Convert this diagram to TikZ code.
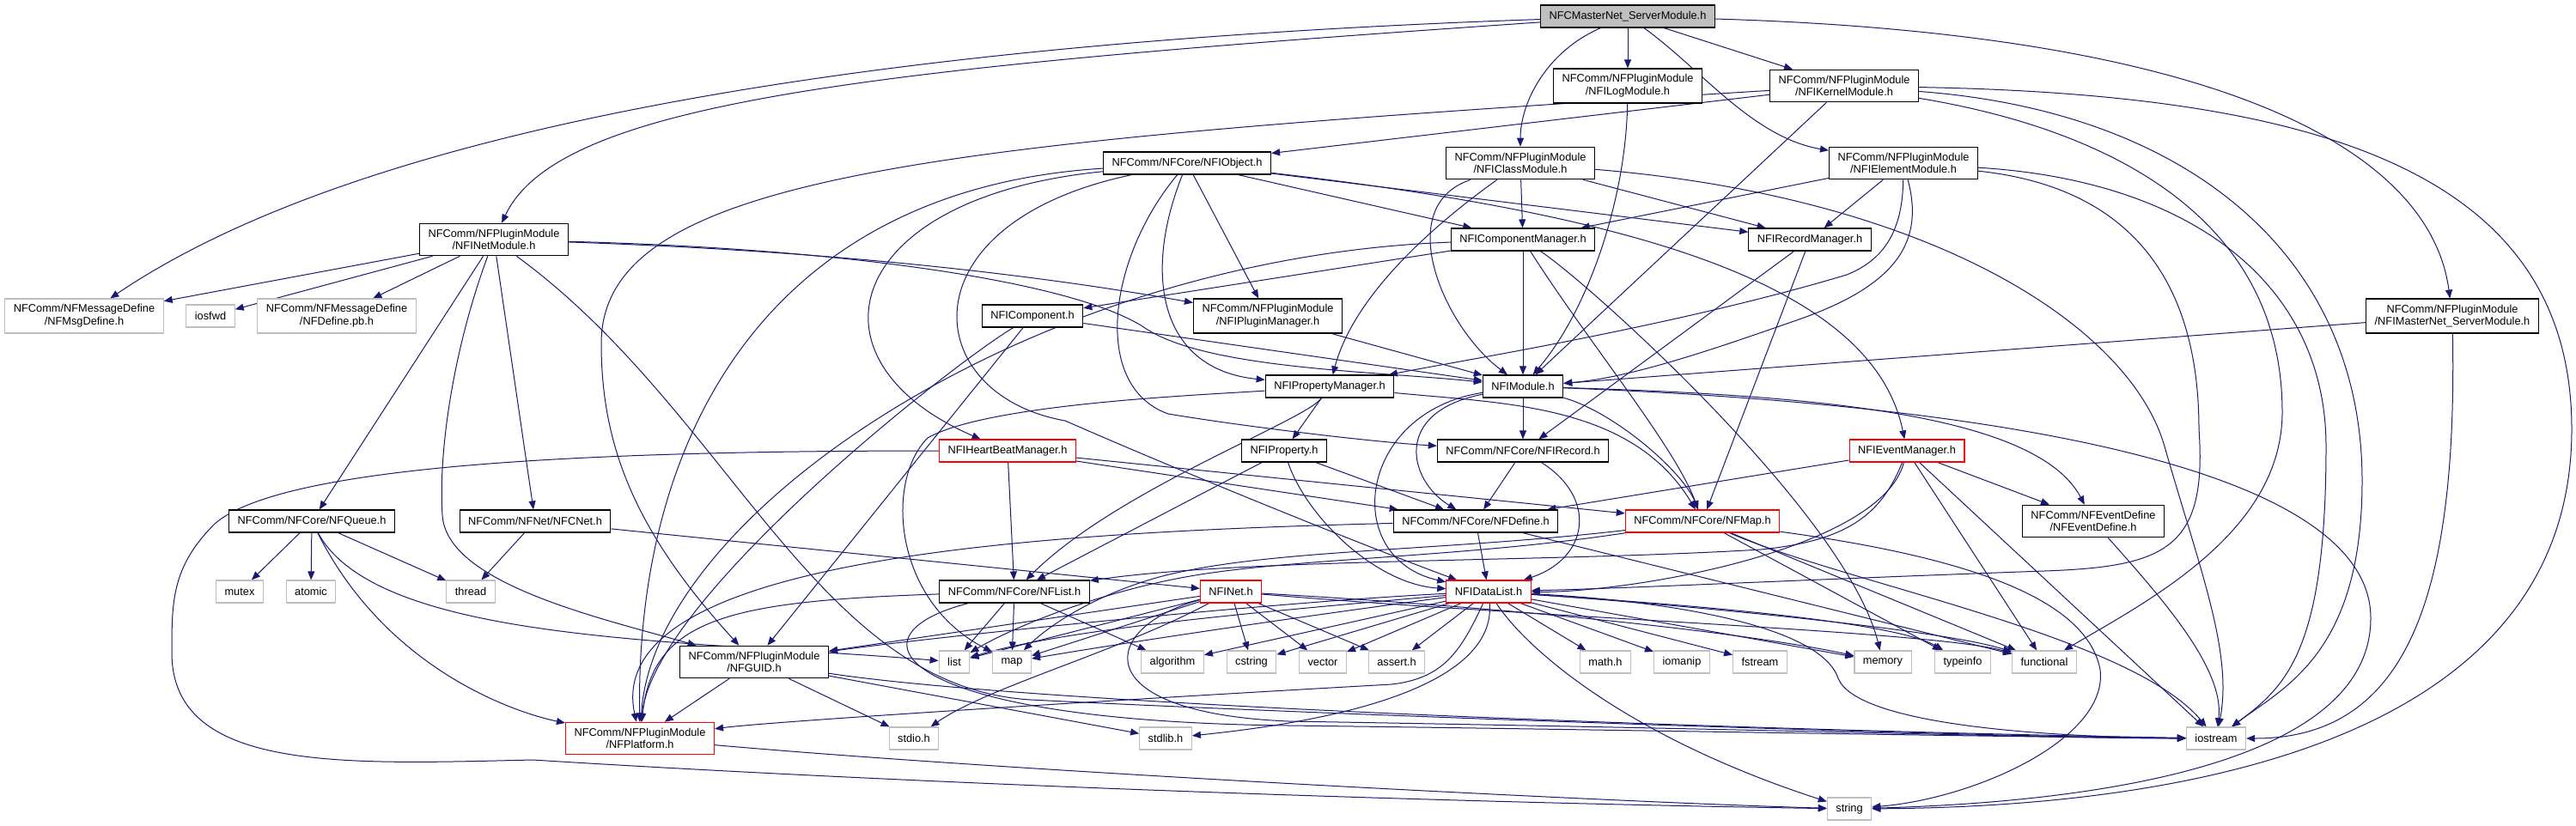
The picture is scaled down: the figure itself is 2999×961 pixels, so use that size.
\documentclass[tikz,border=0pt]{standalone}
\usepackage{fontspec}
\setmainfont{Liberation Sans}
\usepackage{xcolor}
\usetikzlibrary{arrows.meta,backgrounds}

\definecolor{incblue}{HTML}{191970}
\definecolor{hdrred}{HTML}{FF0000}
\definecolor{hdrgray}{HTML}{BFBFBF}
\newcommand{\hdrfont}{\fontsize{9.6}{11}\selectfont}

\begin{document}
\begin{tikzpicture}[
  x=0.75pt, y=-0.75pt,
  hdr/.style={draw=black,fill=white,line width=0.9pt,font=\hdrfont,align=center,
              inner xsep=7.5pt,inner ysep=5pt,minimum height=19.5pt},
  redhdr/.style={hdr,draw=hdrred},
  syshdr/.style={hdr,draw=hdrgray},
  roothdr/.style={hdr,fill=hdrgray},
  inc/.style={-{Triangle[length=7.5pt,width=6pt]},color=incblue,line width=0.75pt}
]
\useasboundingbox (0,0) rectangle (2999,961);

% headers
\node[roothdr] (root)      at (1895,19)  {NFCMasterNet\_ServerModule.h};
\node[hdr]     (logmod)    at (1895,100) {NFComm/NFPluginModule\\/NFILogModule.h};
\node[hdr]     (kernel)    at (2147,100) {NFComm/NFPluginModule\\/NFIKernelModule.h};
\node[hdr]     (object)    at (1382,190) {NFComm/NFCore/NFIObject.h};
\node[hdr]     (classmod)  at (1770,190) {NFComm/NFPluginModule\\/NFIClassModule.h};
\node[hdr]     (elemmod)   at (2216,190) {NFComm/NFPluginModule\\/NFIElementModule.h};
\node[hdr]     (netmod)    at (575,279)  {NFComm/NFPluginModule\\/NFINetModule.h};
\node[hdr]     (compmgr)   at (1773,279) {NFIComponentManager.h};
\node[hdr]     (recmgr)    at (2107,279) {NFIRecordManager.h};
\node[syshdr]  (msgdef)    at (98,368)   {NFComm/NFMessageDefine\\/NFMsgDefine.h};
\node[syshdr]  (iosfwd)    at (245,368)  {iosfwd};
\node[syshdr]  (pbdef)     at (392,368)  {NFComm/NFMessageDefine\\/NFDefine.pb.h};
\node[hdr]     (comp)      at (1202,368) {NFIComponent.h};
\node[hdr]     (plugmgr)   at (1476,368) {NFComm/NFPluginModule\\/NFIPluginManager.h};
\node[hdr]     (mastermod) at (2855,368) {NFComm/NFPluginModule\\/NFIMasterNet\_ServerModule.h};
\node[hdr]     (propmgr)   at (1548,450) {NFIPropertyManager.h};
\node[hdr]     (module)    at (1773,450) {NFIModule.h};
\node[redhdr]  (hbmgr)     at (1173,525) {NFIHeartBeatManager.h};
\node[hdr]     (prop)      at (1495,525) {NFIProperty.h};
\node[hdr]     (record)    at (1773,525) {NFComm/NFCore/NFIRecord.h};
\node[redhdr]  (evtmgr)    at (2220,525) {NFIEventManager.h};
\node[hdr]     (queue)     at (363,607)  {NFComm/NFCore/NFQueue.h};
\node[hdr]     (cnet)      at (623,607)  {NFComm/NFNet/NFCNet.h};
\node[hdr]     (define)    at (1718,607) {NFComm/NFCore/NFDefine.h};
\node[redhdr]  (nfmap)     at (1982,607) {NFComm/NFCore/NFMap.h};
\node[hdr]     (evtdef)    at (2437,607) {NFComm/NFEventDefine\\/NFEventDefine.h};
\node[syshdr]  (mutex)     at (279,689)  {mutex};
\node[syshdr]  (atomic)    at (362,689)  {atomic};
\node[syshdr]  (thread)    at (548,689)  {thread};
\node[hdr]     (nflist)    at (1181,689) {NFComm/NFCore/NFList.h};
\node[redhdr]  (inet)      at (1433,689) {NFINet.h};
\node[redhdr]  (datalist)  at (1733,689) {NFIDataList.h};
\node[hdr]     (guid)      at (878,771)  {NFComm/NFPluginModule\\/NFGUID.h};
\node[syshdr]  (list)      at (1111,771) {list};
\node[syshdr]  (map)       at (1178,771) {map};
\node[syshdr]  (algorithm) at (1365,771) {algorithm};
\node[syshdr]  (cstring)   at (1457,771) {cstring};
\node[syshdr]  (vector)    at (1540,771) {vector};
\node[syshdr]  (assert)    at (1626,771) {assert.h};
\node[syshdr]  (math)      at (1869,771) {math.h};
\node[syshdr]  (iomanip)   at (1958,771) {iomanip};
\node[syshdr]  (fstream)   at (2049,771) {fstream};
\node[syshdr]  (memory)    at (2192,771) {memory};
\node[syshdr]  (typeinfo)  at (2285,771) {typeinfo};
\node[syshdr]  (functional) at (2380,771) {functional};
\node[redhdr]  (platform)  at (745,860)  {NFComm/NFPluginModule\\/NFPlatform.h};
\node[syshdr]  (stdio)     at (1064,860) {stdio.h};
\node[syshdr]  (stdlib)    at (1357,860) {stdlib.h};
\node[syshdr]  (iostream)  at (2580,860) {iostream};
\node[syshdr]  (string)    at (2153,942) {string};

\begin{scope}[on background layer]
\fill[white] (0,0) rectangle (2999,961);

% includes
\draw[inc] (root) .. controls (1000,50) and (420,150) .. (msgdef);
\draw[inc] (root) .. controls (1000,80) and (650,120) .. (netmod);
\draw[inc] (root) -- (logmod);
\draw[inc] (root) -- (kernel);
\draw[inc] (root) .. controls (1800,60) and (1770,120) .. (classmod);
\draw[inc] (root) .. controls (1980,80) and (2040,160) .. (elemmod);
\draw[inc] (root) .. controls (2600,40) and (2830,180) .. (mastermod);

\draw[inc] (kernel) -- (object);
\draw[inc] (kernel) .. controls (1100,165) and (700,200) .. (700,400) .. controls (700,520) and (740,620) .. (guid);
\draw[inc] (kernel) -- (module);
\draw[inc] (kernel) .. controls (2700,110) and (2994,200) .. (2994,500) .. controls (2994,880) and (2500,940) .. (string);
\draw[inc] (kernel) .. controls (2550,130) and (2750,300) .. (2750,560) .. controls (2750,760) and (2660,800) .. (iostream);
\draw[inc] (kernel) .. controls (2450,150) and (2657,250) .. (2657,480) .. controls (2657,620) and (2500,700) .. (functional);

\draw[inc] (logmod) .. controls (1893,230) and (1850,360) .. (module);

\draw[inc] (classmod) -- (compmgr);
\draw[inc] (classmod) .. controls (1620,240) and (1680,380) .. (module);
\draw[inc] (classmod) .. controls (1700,240) and (1580,330) .. (propmgr);
\draw[inc] (classmod) -- (recmgr);
\draw[inc] (classmod) .. controls (2250,230) and (2480,380) .. (2520,520) .. controls (2560,660) and (2600,760) .. (iostream);

\draw[inc] (elemmod) -- (recmgr);
\draw[inc] (elemmod) -- (compmgr);
\draw[inc] (elemmod) .. controls (2240,280) and (2210,330) .. (2100,370) .. controls (2000,405) and (1900,440) .. (module);
\draw[inc] (elemmod) .. controls (2215,260) and (2200,300) .. (2150,320) .. controls (1950,380) and (1700,420) .. (propmgr);
\draw[inc] (elemmod) .. controls (2500,220) and (2560,350) .. (2560,500) .. controls (2570,640) and (2520,660) .. (2380,665) .. controls (2100,675) and (1900,685) .. (datalist);
\draw[inc] (elemmod) .. controls (2550,210) and (2708,330) .. (2708,520) .. controls (2708,760) and (2660,800) .. (iostream);

\draw[inc] (mastermod) -- (module);
\draw[inc] (mastermod) .. controls (2861,700) and (2800,860) .. (iostream);

\draw[inc] (object) -- (compmgr);
\draw[inc] (object) -- (recmgr);
\draw[inc] (object) .. controls (1900,250) and (2180,330) .. (evtmgr);
\draw[inc] (object) .. controls (1330,320) and (1350,430) .. (propmgr);
\draw[inc] (object) -- (plugmgr);
\draw[inc] (object) .. controls (980,230) and (930,420) .. (hbmgr);
\draw[inc] (object) .. controls (900,220) and (740,500) .. (platform);
\draw[inc] (object) .. controls (1050,260) and (1070,460) .. (1240,490) .. controls (1400,560) and (1600,640) .. (datalist);
\draw[inc] (object) .. controls (1290,300) and (1270,450) .. (1360,482) .. controls (1450,497) and (1600,515) .. (record);

\draw[inc] (compmgr) -- (module);
\draw[inc] (compmgr) -- (comp);
\draw[inc] (compmgr) .. controls (1850,400) and (1950,520) .. (nfmap);
\draw[inc] (compmgr) .. controls (1850,330) and (2150,600) .. (memory);
\draw[inc] (compmgr) .. controls (1200,300) and (760,600) .. (platform);

\draw[inc] (recmgr) -- (record);
\draw[inc] (recmgr) -- (nfmap);

\draw[inc] (comp) -- (module);
\draw[inc] (comp) .. controls (1100,430) and (760,700) .. (platform);
\draw[inc] (comp) -- (guid);

\draw[inc] (plugmgr) -- (module);

\draw[inc] (propmgr) -- (prop);
\draw[inc] (propmgr) .. controls (1750,470) and (1900,470) .. (nfmap);
\draw[inc] (propmgr) .. controls (1520,490) and (1300,570) .. (nflist);
\draw[inc] (propmgr) .. controls (1400,460) and (1150,470) .. (1080,510) .. controls (1030,560) and (1040,700) .. (map);

\draw[inc] (module) -- (record);
\draw[inc] (module) .. controls (1620,480) and (1640,560) .. (define);
\draw[inc] (module) .. controls (1580,480) and (1560,650) .. (datalist);
\draw[inc] (module) .. controls (1880,480) and (1960,550) .. (nfmap);
\draw[inc] (module) .. controls (2100,460) and (2370,480) .. (evtdef);
\draw[inc] (module) .. controls (2300,470) and (2760,540) .. (2760,720) .. controls (2760,900) and (2400,935) .. (string);

\draw[inc] (netmod) -- (msgdef);
\draw[inc] (netmod) -- (iosfwd);
\draw[inc] (netmod) -- (pbdef);
\draw[inc] (netmod) -- (queue);
\draw[inc] (netmod) -- (cnet);
\draw[inc] (netmod) .. controls (530,400) and (510,520) .. (515,600) .. controls (520,680) and (700,720) .. (guid);
\draw[inc] (netmod) .. controls (900,290) and (1150,310) .. (plugmgr);
\draw[inc] (netmod) .. controls (1000,290) and (1250,330) .. (1330,380) .. controls (1400,430) and (1600,432) .. (module);
\draw[inc] (netmod) .. controls (850,480) and (950,800) .. (1200,815) .. controls (1600,835) and (2300,858) .. (iostream);

\draw[inc] (queue) -- (mutex);
\draw[inc] (queue) -- (atomic);
\draw[inc] (queue) -- (thread);
\draw[inc] (queue) .. controls (440,750) and (800,745) .. (list);
\draw[inc] (queue) .. controls (450,780) and (600,830) .. (platform);

\draw[inc] (cnet) -- (thread);
\draw[inc] (cnet) -- (inet);

\draw[inc] (hbmgr) -- (nflist);
\draw[inc] (hbmgr) -- (define);
\draw[inc] (hbmgr) -- (nfmap);
\draw[inc] (hbmgr) .. controls (700,525) and (330,540) .. (250,610) .. controls (200,660) and (200,700) .. (200,760)
  .. controls (200,900) and (400,890) .. (620,885) .. controls (1100,915) and (1700,935) .. (string);

\draw[inc] (prop) -- (nflist);
\draw[inc] (prop) -- (define);
\draw[inc] (prop) .. controls (1520,600) and (1600,680) .. (datalist);

\draw[inc] (record) -- (define);
\draw[inc] (record) .. controls (1860,580) and (1850,650) .. (datalist);

\draw[inc] (evtmgr) -- (define);
\draw[inc] (evtmgr) .. controls (2190,640) and (1900,690) .. (datalist);
\draw[inc] (evtmgr) .. controls (2190,600) and (2150,630) .. (2050,640) .. controls (1800,655) and (1450,650) .. (nflist);
\draw[inc] (evtmgr) -- (evtdef);
\draw[inc] (evtmgr) -- (functional);
\draw[inc] (evtmgr) -- (iostream);

\draw[inc] (evtdef) .. controls (2520,700) and (2590,780) .. (iostream);

\draw[inc] (define) -- (datalist);
\draw[inc] (define) -- (functional);
\draw[inc] (define) .. controls (1200,620) and (700,650) .. (platform);

\draw[inc] (nfmap) .. controls (1700,650) and (1500,650) .. (1380,672) .. controls (1280,690) and (1180,730) .. (list);
\draw[inc] (nfmap) .. controls (1700,640) and (1500,640) .. (1380,665) .. controls (1300,680) and (1230,720) .. (map);
\draw[inc] (nfmap) -- (typeinfo);
\draw[inc] (nfmap) -- (functional);
\draw[inc] (nfmap) .. controls (2150,680) and (2480,740) .. (iostream);
\draw[inc] (nfmap) .. controls (2300,650) and (2430,700) .. (2445,780) .. controls (2455,860) and (2300,930) .. (string);

\draw[inc] (nflist) -- (list);
\draw[inc] (nflist) -- (map);
\draw[inc] (nflist) -- (algorithm);
\draw[inc] (nflist) .. controls (850,700) and (760,720) .. (platform);
\draw[inc] (nflist) .. controls (980,740) and (1040,840) .. (1500,845) .. controls (1900,850) and (2300,858) .. (iostream);

\draw[inc] (inet) -- (list);
\draw[inc] (inet) -- (map);
\draw[inc] (inet) -- (cstring);
\draw[inc] (inet) -- (vector);
\draw[inc] (inet) -- (assert);
\draw[inc] (inet) -- (guid);
\draw[inc] (inet) .. controls (1300,760) and (1150,800) .. (stdio);
\draw[inc] (inet) .. controls (1280,730) and (1260,830) .. (1500,840) .. controls (2100,850) and (2400,860) .. (iostream);
\draw[inc] (inet) .. controls (1800,720) and (2250,735) .. (functional);
\draw[inc] (inet) .. controls (1800,710) and (2050,740) .. (memory);

\draw[inc] (datalist) .. controls (1500,710) and (1250,730) .. (list);
\draw[inc] (datalist) .. controls (1500,720) and (1300,750) .. (map);
\draw[inc] (datalist) -- (algorithm);
\draw[inc] (datalist) -- (cstring);
\draw[inc] (datalist) -- (vector);
\draw[inc] (datalist) -- (assert);
\draw[inc] (datalist) -- (math);
\draw[inc] (datalist) -- (iomanip);
\draw[inc] (datalist) -- (fstream);
\draw[inc] (datalist) -- (memory);
\draw[inc] (datalist) .. controls (1900,700) and (2200,720) .. (typeinfo);
\draw[inc] (datalist) .. controls (1900,700) and (2250,730) .. (functional);
\draw[inc] (datalist) .. controls (1950,700) and (2120,730) .. (2140,790) .. controls (2160,840) and (2350,858) .. (iostream);
\draw[inc] (datalist) .. controls (1780,760) and (1900,860) .. (string);
\draw[inc] (datalist) .. controls (1740,770) and (1650,830) .. (stdlib);
\draw[inc] (datalist) .. controls (1700,760) and (1680,790) .. (1620,797) .. controls (1300,815) and (900,840) .. (platform);
\draw[inc] (datalist) .. controls (1500,700) and (1100,740) .. (guid);

\draw[inc] (guid) -- (platform);
\draw[inc] (guid) -- (stdio);
\draw[inc] (guid) -- (stdlib);
\draw[inc] (guid) .. controls (1200,820) and (2000,850) .. (iostream);

\draw[inc] (platform) .. controls (1200,900) and (1900,935) .. (string);
\end{scope}
\end{tikzpicture}
\end{document}
